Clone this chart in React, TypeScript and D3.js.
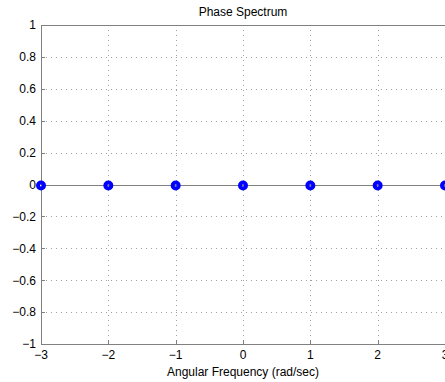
import * as d3 from "d3";
import { useEffect, useRef } from "react";

const WIDTH = 445;
const HEIGHT = 382;
const PLOT = { left: 41, top: 25, right: 445, bottom: 344 };

const frequencies = [-3, -2, -1, 0, 1, 2, 3];
const phases = [0, 0, 0, 0, 0, 0, 0];
const xTicks = [-3, -2, -1, 0, 1, 2, 3];
const yTicks = [-1, -0.8, -0.6, -0.4, -0.2, 0, 0.2, 0.4, 0.6, 0.8, 1];

const FONT = "'Liberation Sans', Arial, Helvetica, sans-serif";
const AXIS_COLOR = "#808080";

function fmt(v: number) {
  const s = Math.abs(v) < 1e-9 ? "0" : String(+v.toFixed(1));
  return s.replace("-", "\u2212");
}

export default function App() {
  const ref = useRef<SVGSVGElement>(null);

  useEffect(() => {
    document.body.style.margin = "0";
    const svg = d3.select(ref.current);
    svg.selectAll("*").remove();

    const x = d3.scaleLinear().domain([-3, 3]).range([PLOT.left, PLOT.right]);
    const y = d3.scaleLinear().domain([-1, 1]).range([PLOT.bottom, PLOT.top]);

    svg
      .append("rect")
      .attr("width", WIDTH)
      .attr("height", HEIGHT)
      .attr("fill", "#ffffff");

    // Dotted grid.
    const grid = svg.append("g").attr("stroke", "#a0a0a0").attr("stroke-width", 1).attr("stroke-dasharray", "1,4");
    grid
      .selectAll("line.v")
      .data(xTicks.slice(1, -1))
      .join("line")
      .attr("class", "v")
      .attr("x1", (d) => Math.round(x(d)) + 0.5)
      .attr("x2", (d) => Math.round(x(d)) + 0.5)
      .attr("y1", PLOT.top)
      .attr("y2", PLOT.bottom);
    grid
      .selectAll("line.h")
      .data(yTicks.slice(1, -1))
      .join("line")
      .attr("class", "h")
      .attr("x1", PLOT.left)
      .attr("x2", PLOT.right)
      .attr("y1", (d) => Math.round(y(d)) + 0.5)
      .attr("y2", (d) => Math.round(y(d)) + 0.5);

    // Axes box + inward ticks.
    const ax = svg.append("g").attr("stroke", AXIS_COLOR).attr("stroke-width", 1).attr("fill", "none");
    ax.append("rect")
      .attr("x", PLOT.left + 0.5)
      .attr("y", PLOT.top + 0.5)
      .attr("width", PLOT.right - PLOT.left)
      .attr("height", PLOT.bottom - PLOT.top);
    ax.selectAll("line.yt")
      .data(yTicks)
      .join("line")
      .attr("class", "yt")
      .attr("x1", PLOT.left)
      .attr("x2", PLOT.left + 4)
      .attr("y1", (d) => Math.round(y(d)) + 0.5)
      .attr("y2", (d) => Math.round(y(d)) + 0.5);
    ax.selectAll("line.xt")
      .data(xTicks)
      .join("line")
      .attr("class", "xt")
      .attr("x1", (d) => Math.round(x(d)) + 0.5)
      .attr("x2", (d) => Math.round(x(d)) + 0.5)
      .attr("y1", PLOT.bottom)
      .attr("y2", PLOT.bottom - 4);

    // Tick labels.
    const labels = svg.append("g").attr("font-family", FONT).attr("font-size", 12).attr("fill", "#000");
    labels
      .selectAll("text.y")
      .data(yTicks)
      .join("text")
      .attr("class", "y")
      .attr("x", 36)
      .attr("y", (d) => y(d))
      .attr("dy", "0.36em")
      .attr("text-anchor", "end")
      .text(fmt);
    labels
      .selectAll("text.x")
      .data(xTicks)
      .join("text")
      .attr("class", "x")
      .attr("x", (d) => x(d))
      .attr("y", 359)
      .attr("text-anchor", "middle")
      .text(fmt);

    labels
      .append("text")
      .attr("x", (PLOT.left + PLOT.right) / 2)
      .attr("y", 376)
      .attr("text-anchor", "middle")
      .text("Angular Frequency (rad/sec)");
    labels
      .append("text")
      .attr("x", (PLOT.left + PLOT.right) / 2)
      .attr("y", 16)
      .attr("text-anchor", "middle")
      .text("Phase Spectrum");

    // Stem baseline.
    svg
      .append("line")
      .attr("x1", PLOT.left)
      .attr("x2", PLOT.right)
      .attr("y1", Math.round(y(0)) + 0.5)
      .attr("y2", Math.round(y(0)) + 0.5)
      .attr("stroke", AXIS_COLOR)
      .attr("stroke-width", 1);

    const pts = frequencies.map((f, i) => ({ f, p: phases[i] }));

    // Stems.
    svg
      .append("g")
      .selectAll("line")
      .data(pts)
      .join("line")
      .attr("x1", (d) => x(d.f))
      .attr("x2", (d) => x(d.f))
      .attr("y1", y(0))
      .attr("y2", (d) => y(d.p))
      .attr("stroke", "#0000ff")
      .attr("stroke-width", 2);

    // Markers.
    svg
      .append("g")
      .selectAll("circle")
      .data(pts)
      .join("circle")
      .attr("cx", (d) => x(d.f))
      .attr("cy", (d) => Math.round(y(d.p)) + 0.5)
      .attr("r", 3)
      .attr("fill", "none")
      .attr("stroke", "#0000ff")
      .attr("stroke-width", 4);
  }, []);

  return (
    <svg
      ref={ref}
      width={WIDTH}
      height={HEIGHT}
      viewBox={`0 0 ${WIDTH} ${HEIGHT}`}
      style={{ display: "block" }}
      role="img"
      aria-label="Phase spectrum stem plot"
    />
  );
}
